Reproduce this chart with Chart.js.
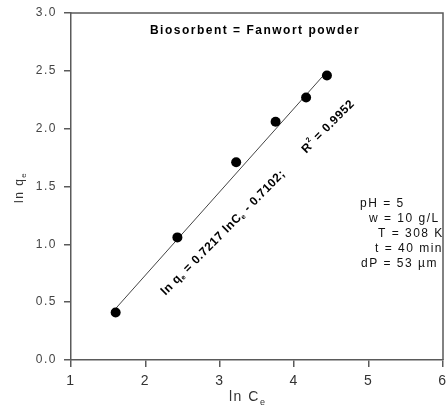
<!DOCTYPE html>
<html>
<head>
<meta charset="utf-8">
<script src="https://cdn.jsdelivr.net/npm/chart.js@4/dist/chart.umd.min.js"></script>
<style>
  html, body { margin: 0; padding: 0; background: #fff; }
  #wrap { width: 448px; height: 408px; }
</style>
</head>
<body>
<div id="wrap"><canvas id="chart" width="448" height="408"></canvas></div>
<script>
// Freundlich isotherm, linearised: ln qe against ln Ce
const lnCe = [1.60, 2.43, 3.22, 3.75, 4.16, 4.44];
const lnQe = [0.41, 1.06, 1.71, 2.06, 2.27, 2.46];

// regression line as printed on the plot
const slope = 0.7217;
const intercept = -0.7102;
const rSquared = 0.9952;
const fitFrom = 1.60;
const fitTo = 4.44;

const xTicks = [1, 2, 3, 4, 5, 6];
const yTicks = [0, 0.5, 1.0, 1.5, 2.0, 2.5, 3.0];

const titleText = 'Biosorbent = Fanwort powder';
const conditions = ['pH = 5', 'w = 10 g/L', 'T = 308 K', 't = 40 min', 'dP = 53 \u00b5m'];

const FONT = "'Liberation Sans', Arial, sans-serif";
const AXIS = '#5a5a5a';

function fitLine() {
    return [fitFrom, fitTo].map(function (v) {
        return { x: v, y: slope * v + intercept };
    });
}

// draws a row of text pieces, some of them lowered or raised;
// a piece with "at" starts at that offset instead of right after the previous one
function drawRuns(ctx, runs, x, y) {
    const x0 = x;
    runs.forEach(function (r) {
        if (r.at !== undefined) x = x0 + r.at;
        ctx.font = r.font;
        ctx.fillText(r.text, x, y + (r.dy || 0));
        x += ctx.measureText(r.text).width;
    });
}

const extras = {
    id: 'extras',
    beforeDraw(chart) {
        chart.ctx.letterSpacing = '1.5px';
    },
    afterDraw(chart) {
        const ctx = chart.ctx;
        const a = chart.chartArea;
        const sx = chart.scales.x, sy = chart.scales.y;
        ctx.save();

        // closing frame, top and right
        ctx.strokeStyle = AXIS;
        ctx.lineWidth = 1.5;
        ctx.beginPath();
        ctx.moveTo(a.left, a.top);
        ctx.lineTo(a.right, a.top);
        ctx.lineTo(a.right, a.bottom);
        ctx.stroke();

        ctx.textBaseline = 'alphabetic';
        ctx.textAlign = 'left';

        // heading
        ctx.fillStyle = '#000';
        ctx.letterSpacing = '1.5px';
        ctx.font = 'bold 12px ' + FONT;
        ctx.textAlign = 'center';
        ctx.fillText(titleText, (a.left + a.right) / 2 - 2, 34);
        ctx.textAlign = 'left';

        // axis titles
        const big = '14px ' + FONT, sub = '9px ' + FONT;
        ctx.fillStyle = '#333';
        drawRuns(ctx, [{ text: 'ln C', font: big }, { text: 'e', font: sub, dy: 4 }], 229, 401);

        ctx.save();
        ctx.translate(23, 203);
        ctx.rotate(-Math.PI / 2);
        drawRuns(ctx, [{ text: 'ln q', font: '12px ' + FONT }, { text: 'e', font: '8px ' + FONT, dy: 3 }], 0, 0);
        ctx.restore();

        // equation along the fitted line
        const eqB = 'bold 12px ' + FONT, eqS = 'bold 7px ' + FONT;
        ctx.fillStyle = '#000';
        ctx.letterSpacing = '0.6px';
        ctx.save();
        ctx.translate(sx.getPixelForValue(2.27), sy.getPixelForValue(0.555));
        ctx.rotate(-45.3 * Math.PI / 180);
        drawRuns(ctx, [
            { text: 'ln q', font: eqB },
            { text: 'e', font: eqS, dy: 2 },
            { text: ' = ' + slope.toFixed(4) + ' lnC', font: eqB },
            { text: 'e', font: eqS, dy: 2 },
            { text: ' - ' + Math.abs(intercept).toFixed(4) + ';', font: eqB },
            { text: 'R', font: eqB, at: 200 },
            { text: '2', font: eqS, dy: -6 },
            { text: ' = ' + rSquared.toFixed(4), font: eqB }
        ], 0, 0);
        ctx.restore();

        // experimental conditions, hand-aligned block
        const lefts = [360, 369, 378, 375, 361];
        ctx.font = '12px ' + FONT;
        ctx.letterSpacing = '1.5px';
        ctx.fillStyle = '#111';
        conditions.forEach(function (s, i) {
            ctx.fillText(s, lefts[i], 207 + i * 15.1);
        });

        ctx.restore();
    }
};

new Chart(document.getElementById('chart'), {
    type: 'scatter',
    data: {
        datasets: [{
            label: 'ln qe',
            data: lnCe.map(function (v, i) { return { x: v, y: lnQe[i] }; }),
            backgroundColor: '#000',
            borderWidth: 0,
            pointRadius: 5,
            pointHoverRadius: 5
        }, {
            label: 'fit',
            data: fitLine(),
            showLine: true,
            borderColor: '#444',
            borderWidth: 1,
            pointRadius: 0
        }]
    },
    options: {
        responsive: false,
        animation: false,
        devicePixelRatio: 1,
        layout: { padding: { top: 13, right: 2, left: 0, bottom: 0 } },
        plugins: {
            legend: { display: false },
            tooltip: { enabled: false }
        },
        scales: {
            x: {
                type: 'linear',
                min: 1,
                max: 6,
                afterBuildTicks: function (s) { s.ticks = xTicks.map(function (v) { return { value: v }; }); },
                afterFit: function (s) { s.height = 48; s.paddingLeft = 0; s.paddingRight = 0; },
                ticks: {
                    font: { family: FONT, size: 14 },
                    color: '#333',
                    padding: 6,
                    maxRotation: 0,
                    callback: function (v) { return String(v); }
                },
                grid: { drawOnChartArea: false, drawTicks: true, tickLength: 7, color: AXIS, lineWidth: 1.5 },
                border: { color: AXIS, width: 1.5 }
            },
            y: {
                min: 0,
                max: 3,
                afterBuildTicks: function (s) { s.ticks = yTicks.map(function (v) { return { value: v }; }); },
                afterFit: function (s) { s.width = 71; s.paddingTop = 0; s.paddingBottom = 0; },
                ticks: {
                    font: { family: FONT, size: 12 },
                    color: '#444',
                    padding: 7,
                    callback: function (v) { return v.toFixed(1); }
                },
                grid: { drawOnChartArea: false, drawTicks: true, tickLength: 7, color: AXIS, lineWidth: 1.5 },
                border: { color: AXIS, width: 1.5 }
            }
        }
    },
    plugins: [extras]
});
</script>
</body>
</html>
